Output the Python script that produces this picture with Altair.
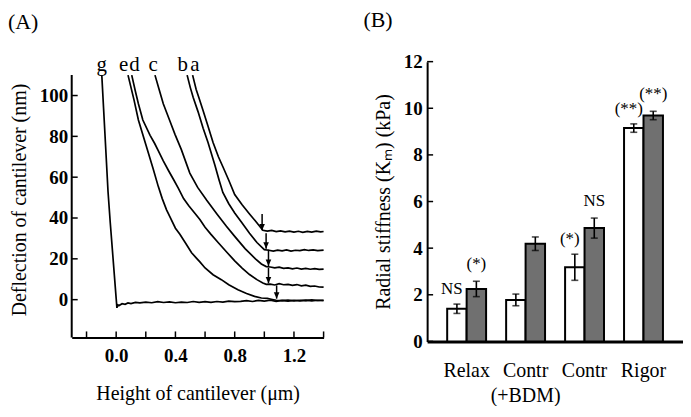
import altair as alt
import pandas as pd

FONT = "Liberation Serif"

# ---------------- Panel (A): force curves ----------------
g_x = [-0.097, -0.085, -0.07, -0.055, -0.04, -0.025, -0.012, 0.0, 0.005, 0.012, 0.02, 0.04, 0.06, 0.08,
       0.10, 0.13, 0.16, 0.20, 0.24, 0.28, 0.32, 0.36, 0.40, 0.44, 0.48, 0.52, 0.56, 0.60, 0.64, 0.68,
       0.72, 0.76, 0.80, 0.84, 0.88, 0.92, 0.96, 1.00, 1.04, 1.08, 1.12, 1.16, 1.20, 1.24, 1.28, 1.32,
       1.36, 1.40]
g_y = [110, 93.7, 73.4, 53.0, 37.8, 23.9, 11.8, 0.6, -4.0, -2.6, -2.9, -2.0, -2.3, -1.6,
       -1.9, -1.3, -1.6, -1.2, -1.5, -1.0, -1.4, -1.1, -1.5, -1.2, -1.4, -0.9, -1.3, -1.0, -1.3, -0.9,
       -1.2, -0.7, -1.0, -0.8, -0.5, -0.9, -0.4, -0.7, -0.3, -0.8, -0.4, -0.7, -0.3, -0.6, -0.2, -0.6,
       -0.3, -0.5]

e_x = [0.08, 0.10, 0.12, 0.15, 0.20, 0.25, 0.284, 0.311, 0.34, 0.363, 0.40, 0.43, 0.47, 0.509, 0.54,
       0.565, 0.60, 0.654, 0.71, 0.76, 0.822, 0.88, 0.934, 0.98, 1.02, 1.047, 1.08, 1.12, 1.16, 1.20,
       1.24, 1.28, 1.32, 1.36, 1.40]
e_y = [110, 104, 98, 88, 76, 64, 55.5, 49.5, 44, 40.5, 35, 32, 27.5, 23, 20.5,
       18.5, 15.5, 12.2, 9.8, 7.3, 4.9, 3.0, 1.6, 0.8, 0.6, 0.2, -0.3, -0.5, -0.2, -0.6,
       -0.3, -0.5, -0.1, -0.4, -0.3]

d_x = [0.105, 0.13, 0.15, 0.18, 0.229, 0.26, 0.284, 0.318, 0.352, 0.39, 0.42, 0.455, 0.49, 0.531,
       0.565, 0.60, 0.64, 0.688, 0.75, 0.80, 0.85, 0.90, 0.95, 0.99, 1.013, 1.04, 1.07, 1.10, 1.13,
       1.16, 1.19, 1.22, 1.25, 1.28, 1.31, 1.34, 1.37, 1.40]
d_y = [110, 102, 96, 88, 80.5, 76.5, 73, 68, 63.4, 58.5, 54.5, 49.5, 46, 42.3,
       39.3, 35.5, 32, 28, 23, 19, 15.5, 12.3, 9.8, 8.2, 7.5, 7.6, 7.2, 7.8, 7.3,
       7.5, 7.0, 7.4, 6.8, 7.1, 6.5, 6.7, 6.2, 6.1]

c_x = [0.262, 0.29, 0.318, 0.36, 0.397, 0.44, 0.497, 0.55, 0.61, 0.68, 0.744, 0.80, 0.87, 0.94, 0.98,
       1.013, 1.04, 1.07, 1.10, 1.13, 1.16, 1.19, 1.22, 1.25, 1.28, 1.31, 1.34, 1.37, 1.40]
c_y = [110, 103, 96, 88, 81, 73.5, 62, 55, 48.8, 42, 36, 31, 25, 20, 17.5,
       16.2, 16.0, 15.6, 15.9, 15.3, 15.6, 15.1, 15.5, 15.0, 15.3, 14.9, 15.2, 14.8, 15.0]

b_x = [0.479, 0.50, 0.52, 0.553, 0.587, 0.62, 0.666, 0.695, 0.72, 0.76, 0.80, 0.845, 0.90, 0.95, 1.0,
       1.03, 1.06, 1.09, 1.12, 1.15, 1.18, 1.21, 1.24, 1.27, 1.30, 1.33, 1.36, 1.40]
b_y = [110, 104, 99, 92, 84, 77, 66, 58.5, 52.5, 47, 42.5, 38, 32.5, 28, 24.5,
       24.2, 23.8, 24.3, 23.9, 24.4, 23.8, 24.2, 24.0, 24.5, 24.1, 24.4, 24.0, 24.3]

a_x = [0.516, 0.54, 0.558, 0.587, 0.62, 0.654, 0.69, 0.721, 0.76, 0.80, 0.85, 0.90, 0.94, 0.99,
       1.02, 1.05, 1.08, 1.11, 1.14, 1.17, 1.20, 1.23, 1.26, 1.29, 1.32, 1.35, 1.38, 1.40]
a_y = [110, 103, 99, 92.5, 85, 77, 70, 65, 58.5, 51.5, 46.5, 42, 38.5, 34,
       33.6, 33.9, 33.3, 33.7, 33.2, 33.6, 33.1, 33.5, 33.0, 33.4, 33.1, 33.6, 33.2, 33.4]

arrow_x = [0.985, 1.012, 1.028, 1.028, 1.083]
arrow_top = [42.0, 32.5, 24.5, 15.5, 7.0]
arrow_tip = [34.0, 25.0, 16.5, 8.0, 0.5]

curve_names = ["g", "e", "d", "c", "b", "a"]
curve_label_x = [-0.097, 0.05, 0.123, 0.25, 0.449, 0.531]
curve_label_y = [112.2, 112.2, 112.2, 112.2, 112.2, 112.2]

x_axis_values = [0.0, 0.4, 0.8, 1.2]
x_minor_ticks = [-0.2, 0.0, 0.2, 0.4, 0.6, 0.8, 1.0, 1.2, 1.4]
y_axis_values = [0, 20, 40, 60, 80, 100]
y_axis_span = [-18.5, 110]

# ---------------- Panel (B): bars ----------------
categories = ["Relax", "Contr (+BDM)", "Contr", "Rigor"]
white_vals = [1.40, 1.78, 3.18, 9.15]
white_sem = [0.20, 0.25, 0.56, 0.18]
gray_vals = [2.25, 4.19, 4.86, 9.69]
gray_sem = [0.33, 0.29, 0.43, 0.18]
white_ann = ["NS", "", "(*)", "(**)"]
gray_ann = ["(*)", "", "NS", "(**)"]
b_y_values = [0, 2, 4, 6, 8, 10, 12]

# ---------------- build tables ----------------
rows = []
for name, xs, ys in [("g", g_x, g_y), ("e", e_x, e_y), ("d", d_x, d_y),
                     ("c", c_x, c_y), ("b", b_x, b_y), ("a", a_x, a_y)]:
    for i, (xv, yv) in enumerate(zip(xs, ys)):
        rows.append({"curve": name, "x": xv, "y": yv, "i": i})
df_lines = pd.DataFrame(rows)
df_arrows = pd.DataFrame({"x": arrow_x, "top": arrow_top, "tip": arrow_tip})
df_labels = pd.DataFrame({"x": curve_label_x, "y": curve_label_y, "t": curve_names})
df_xt = pd.DataFrame({"x": x_minor_ticks})
df_yt = pd.DataFrame({"y": y_axis_values})
df_span = pd.DataFrame({"y0": [y_axis_span[0]], "y1": [y_axis_span[1]]})

W_A, H_A = 253, 277
xs_A = alt.Scale(domain=[-0.3, 1.4], nice=False, zero=False)
ys_A = alt.Scale(domain=[-18.5, 116.6], nice=False, zero=False)
ax_xA = alt.Axis(title="Height of cantilever (μm)", values=x_axis_values, format=".1f",
                 ticks=False, tickSize=0, labelPadding=9, titlePadding=18, grid=False)
ax_yA = alt.Axis(title="Deflection of cantilever (nm)", values=y_axis_values, domain=False,
                 ticks=False, tickSize=0, labelPadding=4, titlePadding=10, grid=False)

def XA(f):
    return alt.X(f, type="quantitative", scale=xs_A, axis=ax_xA)

def YA(f):
    return alt.Y(f, type="quantitative", scale=ys_A, axis=ax_yA)

lines = alt.Chart(df_lines).mark_line(color="black", strokeWidth=1.7).encode(
    x=XA("x"), y=YA("y"), detail="curve:N", order="i:Q")
shafts = alt.Chart(df_arrows).mark_rule(color="black", strokeWidth=1.5).encode(
    x=XA("x"), y=YA("top"), y2="tip:Q")
heads = alt.Chart(df_arrows).mark_point(
    shape="M-0.7,-1.6L0.7,-1.6L0,0Z", filled=True, color="black", size=64, opacity=1).encode(
    x=XA("x"), y=YA("tip"))
labels = alt.Chart(df_labels).mark_text(
    font=FONT, fontSize=21, baseline="alphabetic", align="center", color="black").encode(
    x=XA("x"), y=YA("y"), text="t:N")
xticks_A = alt.Chart(df_xt).mark_rule(color="black", strokeWidth=1.5).encode(
    x=XA("x"), y=alt.value(H_A), y2=alt.value(H_A - 6))
yticks_A = alt.Chart(df_yt).mark_rule(color="black", strokeWidth=1.5).encode(
    y=YA("y"), x=alt.value(0), x2=alt.value(6))
yline_A = alt.Chart(df_span).mark_rule(color="black", strokeWidth=2).encode(
    y=YA("y0"), y2="y1:Q", x=alt.value(0))

panelA = alt.layer(lines, shafts, heads, labels, xticks_A, yticks_A, yline_A).properties(
    width=W_A, height=H_A,
    title=alt.TitleParams("(A)", anchor="start", frame="group", dx=-64, offset=20,
                          fontSize=22, font=FONT, fontWeight="normal", color="black"))

# ---------------- Panel B ----------------
brow = []
for i, c in enumerate(categories):
    brow.append({"cat": c, "s": "1", "v": white_vals[i], "lo": white_vals[i] - white_sem[i],
                 "hi": white_vals[i] + white_sem[i], "ann": white_ann[i]})
    brow.append({"cat": c, "s": "2", "v": gray_vals[i], "lo": gray_vals[i] - gray_sem[i],
                 "hi": gray_vals[i] + gray_sem[i], "ann": gray_ann[i]})
df_b = pd.DataFrame(brow)
df_byt = pd.DataFrame({"y": b_y_values})

W_B, H_B = 257, 281
xs_B = alt.Scale(domain=categories, paddingInner=0.34, paddingOuter=0.34)
xo_B = alt.Scale(domain=["1", "2"], paddingInner=0, paddingOuter=0)
ys_B = alt.Scale(domain=[0, 12], nice=False)
ax_xB = alt.Axis(title=None, labelAngle=0, ticks=False, tickSize=0, domainWidth=3, labelPadding=19,
                 labelFontWeight="normal", labelFontSize=20, labelLineHeight=25,
                 labelExpr="datum.label == 'Contr (+BDM)' ? ['Contr', '(+BDM)'] : datum.label")
ax_yB = alt.Axis(title="Radial stiffness (Kₘ) (kPa)", values=b_y_values, ticks=False, tickSize=0,
                 labelPadding=5, titlePadding=10, grid=False)

def XB():
    return alt.X("cat:N", scale=xs_B, sort=categories, axis=ax_xB)

def XOB():
    return alt.XOffset("s:N", scale=xo_B)

def YB(f):
    return alt.Y(f, type="quantitative", scale=ys_B, axis=ax_yB)

bars = alt.Chart(df_b).mark_bar(stroke="black", strokeWidth=2).encode(
    x=XB(), xOffset=XOB(), y=YB("v"),
    fill=alt.Fill("s:N", scale=alt.Scale(domain=["1", "2"], range=["white", "#707070"]), legend=None))
err = alt.Chart(df_b).mark_rule(color="black", strokeWidth=1.6).encode(
    x=XB(), xOffset=XOB(), y=YB("lo"), y2="hi:Q")
cap_hi = alt.Chart(df_b).mark_tick(color="black", thickness=1.6, size=7, orient="horizontal").encode(
    x=XB(), xOffset=XOB(), y=YB("hi"))
cap_lo = alt.Chart(df_b).mark_tick(color="black", thickness=1.6, size=7, orient="horizontal").encode(
    x=XB(), xOffset=XOB(), y=YB("lo"))
ann_w = alt.Chart(df_b).transform_filter(alt.datum.s == "1").mark_text(
    font=FONT, fontSize=17, dy=-15, dx=-5, baseline="middle", color="black").encode(
    x=XB(), xOffset=XOB(), y=YB("hi"), text="ann:N")
ann_g = alt.Chart(df_b).transform_filter(alt.datum.s == "2").mark_text(
    font=FONT, fontSize=17, dy=-17, baseline="middle", color="black").encode(
    x=XB(), xOffset=XOB(), y=YB("hi"), text="ann:N")
yticks_B = alt.Chart(df_byt).mark_rule(color="black", strokeWidth=1.5).encode(
    y=YB("y"), x=alt.value(0), x2=alt.value(6))

panelB = alt.layer(bars, err, cap_hi, cap_lo, ann_w, ann_g, yticks_B).properties(
    width=W_B, height=H_B,
    title=alt.TitleParams("(B)", anchor="start", frame="group", dx=-64, offset=21,
                          fontSize=22, font=FONT, fontWeight="normal", color="black"))

chart = alt.hconcat(panelA, panelB, spacing=36).properties(
    padding={"left": 0, "top": 0, "right": 0, "bottom": 0}
).configure_view(stroke=None).configure_axis(
    domainColor="black", domainWidth=2, labelFont=FONT, titleFont=FONT,
    labelFontWeight="bold", labelFontSize=19, titleFontSize=20, titleFontWeight="normal",
    labelColor="black", titleColor="black", grid=False)

chart.save("out.html", embed_options={"renderer": "svg", "actions": False})
